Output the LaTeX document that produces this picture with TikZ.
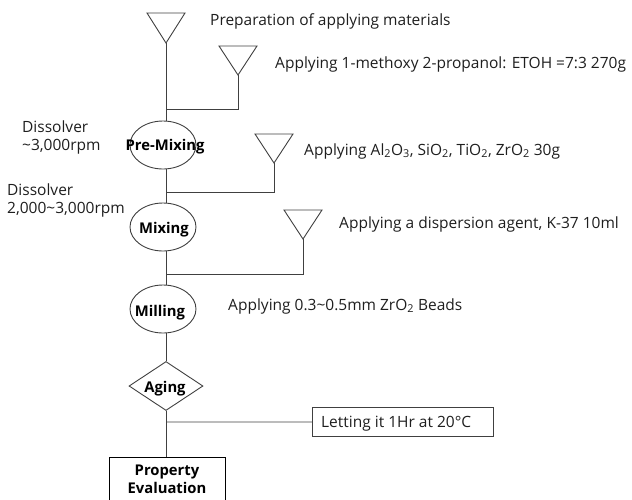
\documentclass[tikz,border=0pt]{standalone}
\usepackage{fontspec}
\setmainfont{Open Sans}
\usetikzlibrary{shapes.geometric}
\definecolor{ln}{RGB}{64,64,64}
\definecolor{tx}{RGB}{30,30,30}
\begin{document}
\begin{tikzpicture}[x=1pt,y=-1pt,
  conn/.style={draw=ln, line width=0.9pt},
  tri/.style={draw=ln, line width=0.9pt},
  proc/.style={ellipse, draw=ln, line width=0.9pt, minimum width=66pt, minimum height=48pt, inner sep=0pt},
  dia/.style={diamond, draw=ln, line width=0.9pt, minimum width=74pt, minimum height=49pt, inner sep=0pt, aspect=1.5},
  boxs/.style={rectangle, draw=black, line width=0.9pt},
  bold/.style={anchor=base, font=\bfseries\fontsize{14.8}{17}\selectfont, text=black, inner sep=0pt},
  lbl/.style={anchor=base west, font=\fontsize{15.5}{18}\selectfont, text=tx, inner sep=0pt}]
\useasboundingbox (0,0) rectangle (632,499);
% triangles (feeders)
\draw[tri] (147,13) -- (185,13) -- (166,43) -- cycle; \coordinate (t1) at (166,43);
\draw[tri] (219,46) -- (257,46) -- (238,75) -- cycle; \coordinate (t2) at (238,75);
\draw[tri] (255,134) -- (293,134) -- (274,163) -- cycle; \coordinate (t3) at (274,163);
\draw[tri] (284,210) -- (322,210) -- (303,239) -- cycle; \coordinate (t4) at (303,239);
% process nodes
\node[proc] (pm) at (163,145) {};
\node[proc] (mx) at (163,227) {};
\node[proc] (ml) at (163,309) {};
\node[dia] (ag) at (166,386) {};
\node[bold] at (165,150) {Pre-Mixing};
\node[bold] at (164,233) {Mixing};
\node[bold] at (160,316) {Milling};
\node[bold] at (165,392) {Aging};
\node[boxs, minimum width=116pt, minimum height=50pt, anchor=north west, inner sep=0pt] (pe) at (109,457) {};
\node[bold] at (167,475) {Property};
\node[bold] at (167,493) {Evaluation};
\node[boxs, draw=ln, minimum width=181pt, minimum height=29pt, anchor=north west, inner sep=0pt] (lt) at (312,407) {};
\node[lbl] at (321,427) {Letting it 1Hr at 20°C};
% junctions
\coordinate (j1) at (166,109);
\coordinate (j2) at (166,192);
\coordinate (j3) at (166,274);
\coordinate (j4) at (166,422);
% connectors
\draw[conn] (t1) -- (pm.north -| t1);
\draw[conn] (t2) |- (j1);
\draw[conn] (pm.south -| j2) -- (mx.north -| j2);
\draw[conn] (t3) |- (j2);
\draw[conn] (mx.south -| j3) -- (ml.north -| j3);
\draw[conn] (t4) |- (j3);
\draw[conn] (ml.south -| j4) -- (ag.north);
\draw[conn] (ag.south) -- (pe.north -| ag.south);
\draw[conn] (j4) -- (lt.west);
% labels
\node[lbl] at (210,25) {Preparation of applying materials};
\node[lbl] at (275,68) {Applying 1-methoxy 2-propanol: ETOH =7:3 270g};
\node[lbl] at (304,155) {Applying Al\textsubscript{2}O\textsubscript{3}, SiO\textsubscript{2}, TiO\textsubscript{2}, ZrO\textsubscript{2} 30g};
\node[lbl] at (339,228) {Applying a dispersion agent, K-37 10ml};
\node[lbl] at (228,310) {Applying 0.3\textasciitilde0.5mm ZrO\textsubscript{2} Beads};
\node[lbl] at (22,132) {Dissolver};
\node[lbl] at (22,150) {\textasciitilde3,000rpm};
\node[lbl] at (7,195) {Dissolver};
\node[lbl] at (7,213) {2,000\textasciitilde3,000rpm};
\end{tikzpicture}
\end{document}
